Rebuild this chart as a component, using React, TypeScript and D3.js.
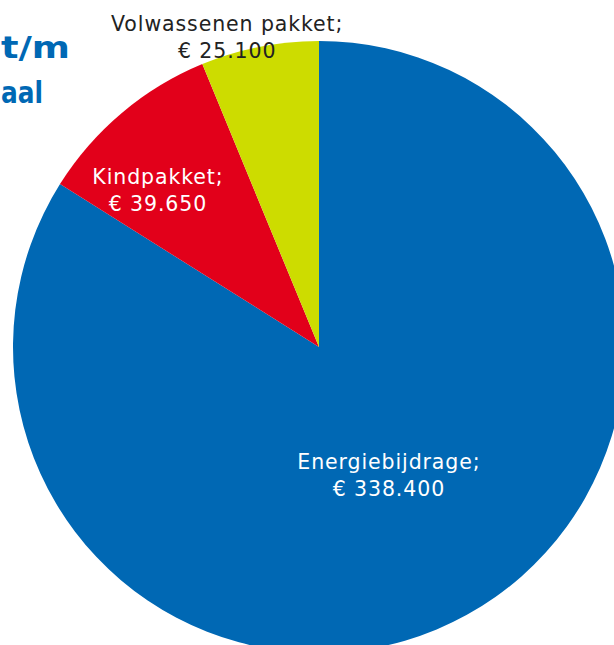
import React, { useEffect, useRef } from "react";
import * as d3 from "d3";

const categories = ["Energiebijdrage", "Kindpakket", "Volwassenen pakket"];
const values = [338400, 39650, 25100];
const colors = ["#0068b4", "#e2001a", "#cddc00"];
const titleLines = ["t/m", "aal"];

const W = 614;
const H = 645;

export default function App() {
  const svgRef = useRef<SVGSVGElement>(null);

  useEffect(() => {
    if (!svgRef.current) return;
    const svg = d3.select(svgRef.current);
    svg.selectAll("*").remove();

    const cx = 319;
    const cy = 347;
    const radius = 306;

    const data = categories.map((c, i) => ({ label: c, value: values[i], color: colors[i] }));

    const pie = d3
      .pie<{ label: string; value: number; color: string }>()
      .value((d) => d.value)
      .sort(null);

    const arc = d3
      .arc<d3.PieArcDatum<{ label: string; value: number; color: string }>>()
      .innerRadius(0)
      .outerRadius(radius);

    const g = svg.append("g").attr("transform", `translate(${cx},${cy})`);
    const arcs = pie(data);

    g.selectAll("path")
      .data(arcs)
      .join("path")
      .attr("d", (d) => arc(d) || "")
      .attr("fill", (d) => d.data.color);

    // title (only its right end is visible in the source)
    const title = svg
      .append("g")
      .attr("font-family", "'DejaVu Sans', sans-serif")
      .attr("font-weight", "bold")
      .attr("font-size", 30)
      .attr("fill", "#0068b4");
    title
      .append("text")
      .attr("x", 1)
      .attr("y", 58)
      .attr("textLength", 69)
      .attr("lengthAdjust", "spacingAndGlyphs")
      .text(titleLines[0]);
    title
      .append("text")
      .attr("x", 1)
      .attr("y", 103)
      .attr("textLength", 42)
      .attr("lengthAdjust", "spacingAndGlyphs")
      .text(titleLines[1]);

    // label placement: radius factor, angle shift, vertical nudge
    const place = [
      { r: 0.5, shift: 0.03, dy: -10 },
      { r: 0.72, shift: -0.12, dy: -9 },
      { r: 1.065, shift: -0.09, dy: 1 },
    ];
    const fmt = (v: number) => "€ " + d3.format(",")(v).replace(/,/g, ".");

    arcs.forEach((d, i) => {
      const a = (d.startAngle + d.endAngle) / 2 + place[i].shift;
      const rr = radius * place[i].r;
      const x = rr * Math.sin(a);
      const y = -rr * Math.cos(a) + place[i].dy;
      const t = g
        .append("text")
        .attr("text-anchor", "middle")
        .attr("font-family", "'DejaVu Sans', sans-serif")
        .attr("font-size", 20.5)
        .attr("letter-spacing", 0.9)
        .attr("fill", i === 2 ? "#222222" : "#ffffff");
      t.append("tspan").attr("x", x).attr("y", y - 4).text(d.data.label + ";");
      t.append("tspan").attr("x", x).attr("y", y + 23).text(fmt(d.data.value));
    });
  }, []);

  return (
    <div style={{ position: "fixed", left: 0, top: 0, width: W, height: H, overflow: "hidden", background: "#fff" }}>
      <svg ref={svgRef} width={W} height={H}></svg>
    </div>
  );
}
